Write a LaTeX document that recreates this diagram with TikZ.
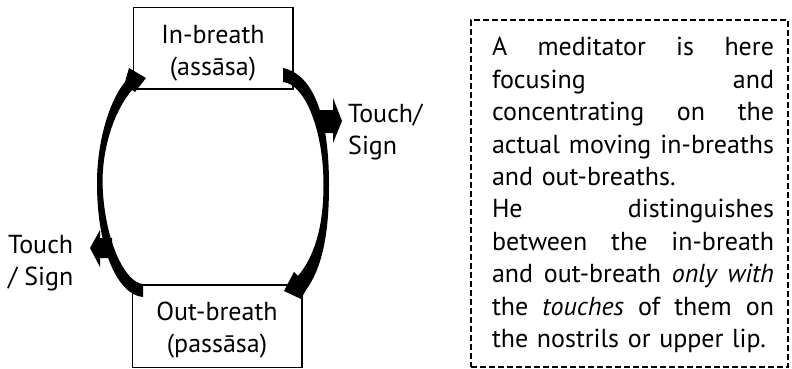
\documentclass[tikz,border=0pt]{standalone}
\usepackage{fontspec}
\setmainfont{PT Sans}
\newlength{\notew}
\setlength{\notew}{282pt}
\newcommand{\justline}[1]{\makebox[\notew][s]{\spaceskip=0.27em plus 1fil\relax #1}}
\begin{document}
\begin{tikzpicture}[x=1pt,y=-1pt,
  txt/.style={font=\fontsize{26}{32.4}\selectfont, inner sep=0pt},
  flowbox/.style={draw, line width=1.3pt, rectangle, inner sep=0pt},
  noteframe/.style={draw, line width=1.3pt, dash pattern=on 6pt off 3pt, rectangle, inner sep=0pt},
  arrowfill/.style={fill=black, draw=none}]
\useasboundingbox (0,0) rectangle (792,369);

% boxes
\node[flowbox, minimum width=159.5pt, minimum height=81.5pt] (inb) at (213.25,48.25) {};
\node[flowbox, minimum width=169.5pt, minimum height=82.5pt] (outb) at (217.25,326.25) {};
\node[txt, align=center] (inbt) at (213,53) {In-breath\\(assāsa)};
\node[txt, align=center] (outbt) at (217,330) {Out-breath\\(passāsa)};

% touch/sign block arrows
\fill[arrowfill] (318,110) -- (333,110) -- (333,98) -- (342,121) -- (333,143) -- (333,133) -- (318,133) -- cycle;
\fill[arrowfill] (112,238) -- (100,238) -- (100,230) -- (90,248) -- (100,267) -- (100,258) -- (112,258) -- cycle;

% curved arrows
\fill[arrowfill] (143,297) .. controls (118,295) and (97,250) .. (97,183)
  .. controls (97,140) and (110,100) .. (125,82)
  -- (129,68) -- (146,78) -- (135,92) -- (132,90)
  .. controls (115,110) and (102.5,145) .. (102.5,183)
  .. controls (104,240) and (125,283) .. (143,284) -- cycle;
\fill[arrowfill] (283,68) .. controls (315,75) and (329,120) .. (329,185)
  .. controls (329,235) and (322,268) .. (306,290)
  -- (301,299) -- (284,291) -- (294,272) -- (298,276)
  .. controls (313,258) and (323.5,230) .. (323.5,185)
  .. controls (323.5,130) and (305,84) .. (283,82) -- cycle;

% side labels
\node[txt, align=left, anchor=west] (tsr) at (348,132) {Touch/\\Sign};
\node[txt, align=left, anchor=west] (tsl) at (8,263) {Touch\\/ Sign};

% note
\node[noteframe, minimum width=317pt, minimum height=347pt] (note) at (629.5,193.5) {};
\node[txt, align=left, text width=\notew] (notet) at (633,195) {%
\justline{A meditator is here}\\
\justline{focusing and}\\
\justline{concentrating on the}\\
\justline{actual moving in-breaths}\\
and out-breaths.\\
\justline{He distinguishes}\\
\justline{between the in-breath}\\
\justline{and out-breath \textit{only with}}\\
\justline{the \textit{touches} of them on}\\
the nostrils or upper lip.};
\end{tikzpicture}
\end{document}
